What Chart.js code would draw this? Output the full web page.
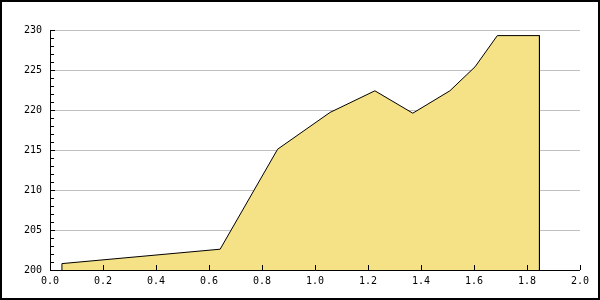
<!DOCTYPE html>
<html>
<head>
<script src="https://cdn.jsdelivr.net/npm/chart.js@4"></script>
<style>
  body { margin: 0; background: #fff; }
  #wrap { width: 600px; height: 300px; }
</style>
</head>
<body>
<div id="wrap"><canvas id="chart" width="600" height="300"></canvas></div>
<script>
// values
var xValues = [0.045, 0.045, 0.642, 0.859, 1.057, 1.226, 1.369, 1.509, 1.604, 1.688, 1.847, 1.847]
var yValues = [200, 200.8, 202.6, 215.1, 219.7, 222.4, 219.6, 222.4, 225.4, 229.3, 229.3, 200]
var xTicks = [0, 0.2, 0.4, 0.6, 0.8, 1.0, 1.2, 1.4, 1.6, 1.8, 2.0]
var yTicks = [200, 205, 210, 215, 220, 225, 230]

var points = []
for (var i = 0; i < xValues.length; i++) {
  points.push({x: xValues[i], y: yValues[i]})
}

var tickFont = {family: "'DejaVu Sans Mono', monospace", size: 10}

// frame round the whole picture + inward ticks
var decor = {
  id: 'decor',
  afterDraw: function (chart) {
    var ctx = chart.ctx
    var a = chart.chartArea
    var xs = chart.scales.x, ys = chart.scales.y
    ctx.save()
    ctx.strokeStyle = '#000'
    ctx.lineWidth = 1
    ctx.beginPath()
    // y ticks, every unit, pointing right
    for (var v = 200; v <= 230; v++) {
      var py = Math.round(ys.getPixelForValue(v)) + 0.5
      var len = (v % 5 == 0) ? 5 : 4
      ctx.moveTo(a.left, py)
      ctx.lineTo(a.left + len, py)
    }
    // x ticks pointing up
    xTicks.forEach(function (t) {
      var px = Math.round(xs.getPixelForValue(t)) + 0.5
      ctx.moveTo(px, a.bottom)
      ctx.lineTo(px, a.bottom - 5)
    })
    // axis lines
    ctx.moveTo(a.left + 0.5, a.top)
    ctx.lineTo(a.left + 0.5, a.bottom + 0.5)
    ctx.lineTo(a.right, a.bottom + 0.5)
    ctx.stroke()
    ctx.lineWidth = 2
    ctx.strokeRect(1, 1, chart.width - 2, chart.height - 2)
    ctx.restore()
  }
}

var ctx = document.getElementById('chart').getContext('2d')
var chart = new Chart(ctx, {
  type: 'scatter',
  data: {
    datasets: [{
      data: points,
      showLine: true,
      fill: 'origin',
      backgroundColor: '#F6E286',
      borderColor: '#000',
      borderWidth: 1,
      pointRadius: 0,
      tension: 0
    }]
  },
  options: {
    responsive: false,
    animation: false,
    layout: {padding: {left: 0, right: 20, top: 30, bottom: 0}},
    plugins: {legend: {display: false}, tooltip: {enabled: false}},
    scales: {
      x: {
        type: 'linear', min: 0, max: 2,
        afterBuildTicks: function (s) { s.ticks = xTicks.map(function (v) { return {value: v} }) },
        afterFit: function (s) { s.height = 30 },
        grid: {display: false, drawTicks: false},
        border: {display: false},
        ticks: {
          color: '#000', font: tickFont, padding: 5, maxRotation: 0,
          callback: function (v) { return v.toFixed(1) }
        }
      },
      y: {
        type: 'linear', min: 200, max: 230,
        afterBuildTicks: function (s) { s.ticks = yTicks.map(function (v) { return {value: v} }) },
        afterFit: function (s) { s.width = 50 },
        grid: {color: '#c0c0c0', lineWidth: 1, drawTicks: false},
        border: {display: false},
        ticks: {color: '#000', font: tickFont, padding: 8}
      }
    }
  },
  plugins: [decor]
})
</script>
</body>
</html>
